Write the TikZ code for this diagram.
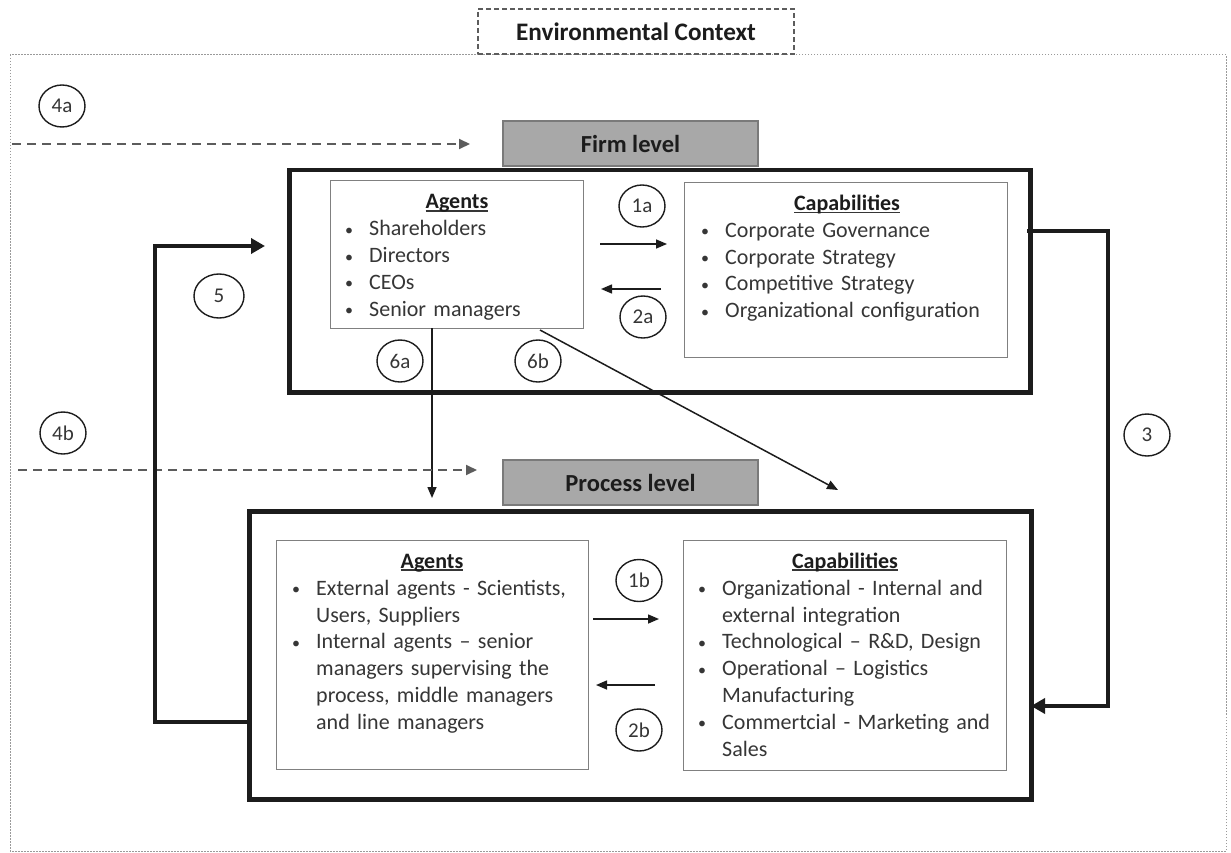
\documentclass[tikz,border=0pt]{standalone}
\usepackage{fontspec}
\setmainfont{Carlito}
\usetikzlibrary{arrows.meta,shapes.geometric}

\definecolor{ink}{HTML}{363636}
\definecolor{heavy}{HTML}{1C1C1C}
\definecolor{thingray}{HTML}{808080}
\definecolor{levelgray}{HTML}{A8A8A8}
\definecolor{levelline}{HTML}{7A7A7A}
\definecolor{dashgray}{HTML}{5C5C5C}
\definecolor{dotgray}{HTML}{9A9A9A}

% underlined bold heading
\newcommand{\headul}[1]{\setbox0\hbox{\bfseries #1}\rlap{\color{ink}\rule[-2.6pt]{\wd0}{1.2pt}}\box0}
% bullet items with hanging indent; \fitem opens the first one, \closeitems ends the last
\newcommand{\bulletmark}{\makebox[24pt][l]{\raisebox{0.5pt}{\fontsize{16}{16}\selectfont\textbullet}}}
\newcommand{\fitem}{\hangindent=24pt\hangafter=1\noindent\rule{0pt}{16pt}\bulletmark}
\newcommand{\bitem}{\par\fitem}
\newcommand{\closeitems}{\par}
\newcommand{\nl}{\hfil\break}

\tikzset{
  heavybox/.style={draw=heavy, line width=4.5pt, inner sep=0pt, anchor=north west},
  listbox/.style={draw=thingray, line width=1.4pt, inner sep=0pt, anchor=north west, fill=white},
  levelbox/.style={draw=levelline, fill=levelgray, line width=1.4pt, inner sep=0pt,
     minimum width=255pt, minimum height=45pt, text=heavy, font=\fontsize{24.5}{28}\selectfont\bfseries},
  envbox/.style={draw=dashgray, line width=1.3pt, dash pattern=on 5pt off 3pt, fill=white, inner sep=0pt,
     minimum width=316pt, minimum height=45pt, text=heavy, font=\fontsize{25.2}{28}\selectfont\bfseries},
  tag/.style={ellipse, draw=heavy, line width=1.4pt, inner sep=0pt, minimum width=46pt,
     minimum height=42pt, text=ink, font=\fontsize{21}{21}\selectfont},
  heading/.style={anchor=base, inner sep=0pt, text=heavy, font=\fontsize{22}{26.8}\selectfont},
  items/.style={anchor=north west, inner sep=0pt, text width=380pt, text=ink,
     font=\fontsize{22}{26.8}\selectfont},
  flow/.style={draw=heavy, line width=1.5pt, -{Triangle[length=11pt,width=9pt]}},
  loop/.style={draw=heavy, line width=4pt, -{Triangle[length=14pt,width=15pt]}},
  outside/.style={draw=dashgray, line width=2pt, dash pattern=on 9pt off 6pt,
     -{Triangle[length=11pt,width=10pt,sep=0pt]}},
}

\begin{document}
\begin{tikzpicture}[x=1pt,y=-1pt]
\useasboundingbox (0,0) rectangle (1231,853);

% environment frame and label
\draw[dotgray, line width=1pt, dash pattern=on 1.5pt off 1.5pt] (10,55) rectangle (1226,851);
\node[envbox] (env) at (636,31.5) {Environmental Context};

% firm level
\node[levelbox] (firmlevel) at (630.5,143.5) {Firm level};
\node[heavybox, minimum width=741pt, minimum height=222pt] (firm) at (287,168) {};
\node[listbox, minimum width=253pt, minimum height=148pt] (fagents) at (330,180) {};
\node[listbox, minimum width=323pt, minimum height=175pt] (fcaps) at (684,182) {};

\node[heading] (fagentstitle) at (457,209) {\headul{Agents}};
\node[items] (fagentslist) at (345,219.5) {%
  \fitem Shareholders
  \bitem Directors
  \bitem CEOs
  \bitem Senior managers\closeitems};

\node[heading] (fcapstitle) at (847,210.5) {\headul{Capabilities}};
\node[items] (fcapslist) at (701,221) {%
  \fitem Corporate Governance
  \bitem Corporate Strategy
  \bitem Competitive Strategy
  \bitem Organizational configuration\closeitems};

% process level
\node[levelbox] (proclevel) at (630.5,482.5) {Process level};
\node[heavybox, minimum width=782pt, minimum height=288pt] (proc) at (247,509) {};
\node[listbox, minimum width=312pt, minimum height=229pt] (pagents) at (276,540) {};
\node[listbox, minimum width=323pt, minimum height=230pt] (pcaps) at (683,540) {};

\node[heading] (pagentstitle) at (432,568) {\headul{Agents}};
\node[items] (pagentslist) at (292,579) {%
  \fitem External agents - Scientists,\nl Users, Suppliers
  \bitem Internal agents -- senior\nl managers supervising the\nl process, middle managers\nl and line managers\closeitems};

\node[heading] (pcapstitle) at (845,568) {\headul{Capabilities}};
\node[items] (pcapslist) at (698,579) {%
  \fitem Organizational - Internal and\nl external integration
  \bitem Technological -- R\&D, Design
  \bitem Operational -- Logistics\nl Manufacturing
  \bitem Commertcial - Marketing and\nl Sales\closeitems};

% numbered tags
\node[tag] (t4a) at (62,106) {4a};
\node[tag] (t4b) at (63,433) {4b};
\node[tag] (t1a) at (642,206) {1a};
\node[tag] (t2a) at (643,317) {2a};
\node[tag] (t6a) at (400,361) {6a};
\node[tag] (t6b) at (538,361) {6b};
\node[tag, minimum width=50pt, minimum height=44pt] (t5) at (219,296) {5};
\node[tag] (t1b) at (639,580.5) {1b};
\node[tag] (t2b) at (639,730) {2b};
\node[tag] (t3) at (1147,435) {3};

% connector end points
\coordinate (a1s) at (600,244);   \coordinate (a1e) at (667,244);
\coordinate (a2s) at (661,289);   \coordinate (a2e) at (601,289);
\coordinate (b1s) at (593,619);   \coordinate (b1e) at (659,619);
\coordinate (b2s) at (655,685);   \coordinate (b2e) at (596,685);
\coordinate (s6a) at (432,328);   \coordinate (e6a) at (432,498);
\coordinate (s6b) at (540,330);   \coordinate (e6b) at (838,490);
\coordinate (s4a) at (12,144);    \coordinate (e4a) at (470,144);
\coordinate (s4b) at (18,470);    \coordinate (e4b) at (477,470);
\coordinate (s5) at (247,722);    \coordinate (e5) at (265,246);
\coordinate (s3) at (1027,231);   \coordinate (e3) at (1031,706);

% interactions within each level
\draw[flow] (a1s) -- (a1e);
\draw[flow] (a2s) -- (a2e);
\draw[flow] (b1s) -- (b1e);
\draw[flow] (b2s) -- (b2e);

% firm-level agents acting on the process level
\draw[flow] (s6a) -- (e6a);
\draw[flow] (s6b) -- (e6b);

% environmental influences
\draw[outside] (s4a) -- (e4a);
\draw[outside] (s4b) -- (e4b);

% feedback loops between levels
\draw[loop] (s5) -- (155,722) -- (155,246) -- (e5);
\draw[loop] (s3) -- (1108,231) -- (1108,706) -- (e3);
\end{tikzpicture}
\end{document}
